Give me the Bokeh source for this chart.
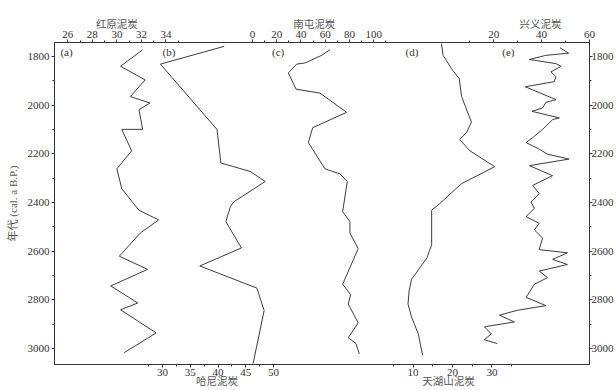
from bokeh.plotting import figure
from bokeh.models import Range1d, LinearAxis, FixedTicker, Label
from bokeh.embed import file_html
from bokeh.resources import INLINE

# ---- data: age (cal. a B.P.) and proxy value for each peat record ----
hongyuan_age = [1773, 1841, 1897, 1965, 1992, 2019, 2100, 2100, 2188, 2262, 2344,
                2432, 2472, 2526, 2621, 2675, 2743, 2813, 2841, 2936, 3017]
hongyuan_val = [32.1, 30.3, 32.3, 31.1, 32.7, 31.8, 32.1, 30.4, 31.2, 30.0, 30.4,
                31.8, 33.4, 31.9, 30.2, 32.5, 29.5, 31.7, 30.3, 33.2, 30.6]

hani_age = [1759, 1832, 2100, 2238, 2273, 2314, 2398, 2418, 2479, 2587, 2661,
            2752, 2844, 3062]
hani_val = [41.1, 29.6, 39.8, 40.5, 45.8, 48.5, 42.8, 42.2, 41.4, 44.2, 36.7,
            47.0, 48.3, 46.3]

nantun_age = [1773, 1796, 1827, 1832, 1868, 1935, 1951, 2030, 2093, 2154, 2262,
              2283, 2314, 2438, 2479, 2526, 2590, 2736, 2779, 2817, 2895, 2956,
              2979, 3022]
nantun_val = [63.9, 57.1, 43.4, 36.5, 29.6, 36.0, 55.7, 77.7, 49.7, 46.1, 59.8,
              72.2, 78.2, 74.4, 80.4, 80.4, 87.2, 74.4, 81.0, 79.0, 87.2, 79.0,
              85.3, 88.1]

tianhu_age = [1748, 1796, 1857, 1891, 1965, 2033, 2070, 2114, 2141, 2188, 2253,
              2323, 2404, 2432, 2574, 2628, 2716, 2763, 2817, 2871, 2939, 3027]
tianhu_val = [17.2, 17.6, 20.0, 21.7, 22.3, 23.9, 24.8, 23.5, 21.8, 24.4, 30.7,
              22.3, 16.8, 14.7, 14.7, 13.5, 9.6, 9.0, 8.7, 9.6, 11.3, 12.4]

xingyi_age = [1765, 1787, 1796, 1813, 1830, 1841, 1864, 1884, 1904, 1925, 1978,
              1989, 2012, 2026, 2053, 2060, 2100, 2134, 2154, 2181, 2202, 2222,
              2249, 2290, 2330, 2364, 2398, 2425, 2458, 2486, 2513, 2546, 2594,
              2607, 2634, 2655, 2682, 2709, 2736, 2790, 2824, 2843, 2863, 2891,
              2911, 2940, 2964, 2980]
xingyi_val = [47.7, 51.3, 41.8, 34.9, 46.0, 48.1, 43.9, 46.0, 45.3, 33.2, 46.0,
              41.8, 40.4, 36.0, 47.4, 44.6, 40.4, 36.3, 33.5, 39.0, 42.5, 51.5,
              34.9, 44.6, 36.3, 39.0, 35.6, 37.0, 33.5, 39.0, 37.0, 40.4, 39.0,
              50.8, 44.6, 50.8, 39.0, 42.5, 37.0, 33.5, 41.8, 29.9, 22.4, 28.6,
              16.1, 19.0, 16.1, 21.5]

age_ticks = [1800, 2000, 2200, 2400, 2600, 2800, 3000]
age_minor = [1900, 2100, 2300, 2500, 2700, 2900]

# ---- scale settings (each record has its own horizontal range) ----
ranges = {
    "hongyuan": Range1d(24.919, 68.496),
    "hani": Range1d(10.522, 106.925),
    "nantun": Range1d(-163.21, 277.94),
    "tianhu": Range1d(-80.96, 54.74),
    "xingyi": Range1d(-163.33, 60.0),
}

NUM_FONT = "Liberation Serif"
CJK_FONT = "Noto Sans CJK SC"
INK = "#333333"
TITLE_INK = "#555555"
LINE = "#3c3c3c"

p = figure(width=616, height=390, output_backend="svg", toolbar_location=None,
           x_range=Range1d(0, 1), y_range=Range1d(3065.7, 1743.2),
           x_axis_location=None,
           min_border_left=54, min_border_right=20, min_border_top=42,
           min_border_bottom=10, background_fill_color="white",
           border_fill_color="white", outline_line_color=INK)
p.extra_x_ranges = ranges
p.xgrid.visible = False
p.ygrid.visible = False


def frac(v, name):
    r = ranges[name]
    return round((v - r.start) / (r.end - r.start), 6)


def build_ticks(spec):
    major, minor, labels = [], [], {}
    for name, majors, minors in spec:
        for v in majors:
            f = frac(v, name)
            major.append(f)
            labels[f] = f"{v:g}"
        minor.extend(frac(v, name) for v in minors)
    return FixedTicker(ticks=major, minor_ticks=minor), labels


def style_axis(ax):
    ax.axis_line_color = INK
    ax.major_tick_line_color = INK
    ax.minor_tick_line_color = INK
    ax.major_tick_out = 3
    ax.major_tick_in = 0
    ax.minor_tick_out = 2
    ax.minor_tick_in = 0
    ax.major_label_text_font = NUM_FONT
    ax.major_label_text_font_size = "11px"
    ax.major_label_text_color = INK
    ax.major_label_standoff = 1


def title_axis(spec, standoff):
    # an axis row that only carries the record names
    ticks, labels = [], {}
    for name, xv, text in spec:
        f = frac(xv, name)
        ticks.append(f)
        labels[f] = text
    ax = LinearAxis(ticker=FixedTicker(ticks=ticks, minor_ticks=[]),
                    major_label_overrides=labels)
    ax.axis_line_color = None
    ax.major_tick_line_color = None
    ax.minor_tick_line_color = None
    ax.major_tick_out = 0
    ax.major_tick_in = 0
    ax.minor_tick_out = 0
    ax.minor_tick_in = 0
    ax.major_label_standoff = standoff
    ax.major_label_text_font = CJK_FONT
    ax.major_label_text_font_size = "10.5px"
    ax.major_label_text_color = TITLE_INK
    return ax


# top axis: 红原, 南屯, 兴义
top_ticker, top_labels = build_ticks([
    ("hongyuan", [26, 28, 30, 32, 34], [27, 29, 31, 33, 35]),
    ("nantun", [0, 20, 40, 60, 80, 100], [10, 30, 50, 70, 90, 110]),
    ("xingyi", [20, 40, 60], [10, 30, 50]),
])
top_axis = LinearAxis(ticker=top_ticker, major_label_overrides=top_labels)
style_axis(top_axis)
top_axis.major_label_standoff = 2
p.add_layout(top_axis, "above")
p.add_layout(title_axis([
    ("hongyuan", 30, "红原泥炭"),
    ("nantun", 51, "南屯泥炭"),
    ("xingyi", 39.5, "兴义泥炭"),
], -3), "above")

# bottom axis: 哈尼, 天湖山
bot_ticker, bot_labels = build_ticks([
    ("hani", [30, 35, 40, 45, 50], [27.5, 32.5, 37.5, 42.5, 47.5]),
    ("tianhu", [10, 20, 30], [5, 15, 25, 35]),
])
bottom_axis = LinearAxis(ticker=bot_ticker, major_label_overrides=bot_labels)
style_axis(bottom_axis)
p.add_layout(bottom_axis, "below")
p.add_layout(title_axis([
    ("hani", 39.8, "哈尼泥炭"),
    ("tianhu", 19.0, "天湖山泥炭"),
], -6), "below")

# age axes
left_axis = p.yaxis[0]
left_axis.ticker = FixedTicker(ticks=age_ticks, minor_ticks=age_minor)
style_axis(left_axis)
left_axis.major_label_standoff = 2
left_axis.axis_label = "年代 (cal. a B.P.)"
left_axis.axis_label_text_font = f"{NUM_FONT}, {CJK_FONT}"
left_axis.axis_label_text_font_size = "11px"
left_axis.axis_label_text_font_style = "normal"
left_axis.axis_label_text_color = TITLE_INK
left_axis.axis_label_standoff = 6

right_axis = LinearAxis(ticker=FixedTicker(ticks=age_ticks, minor_ticks=age_minor))
style_axis(right_axis)
right_axis.major_label_standoff = -1
p.add_layout(right_axis, "right")

# ---- records ----
for name, ages, vals in [
    ("hongyuan", hongyuan_age, hongyuan_val),
    ("hani", hani_age, hani_val),
    ("nantun", nantun_age, nantun_val),
    ("tianhu", tianhu_age, tianhu_val),
    ("xingyi", xingyi_age, xingyi_val),
]:
    p.line(vals, ages, x_range_name=name, line_color=LINE, line_width=1)

# ---- panel letters ----
for name, xv, text in [
    ("hongyuan", 25.4, "(a)"),
    ("hani", 30.0, "(b)"),
    ("nantun", 16.2, "(c)"),
    ("tianhu", 8.1, "(d)"),
    ("xingyi", 23.6, "(e)"),
]:
    p.add_layout(Label(x=xv, y=1784, x_range_name=name, text=text,
                       text_align="left", text_baseline="middle",
                       text_font=NUM_FONT, text_font_size="11px",
                       text_color=INK))

open("out.html", "w").write(file_html(p, INLINE))
